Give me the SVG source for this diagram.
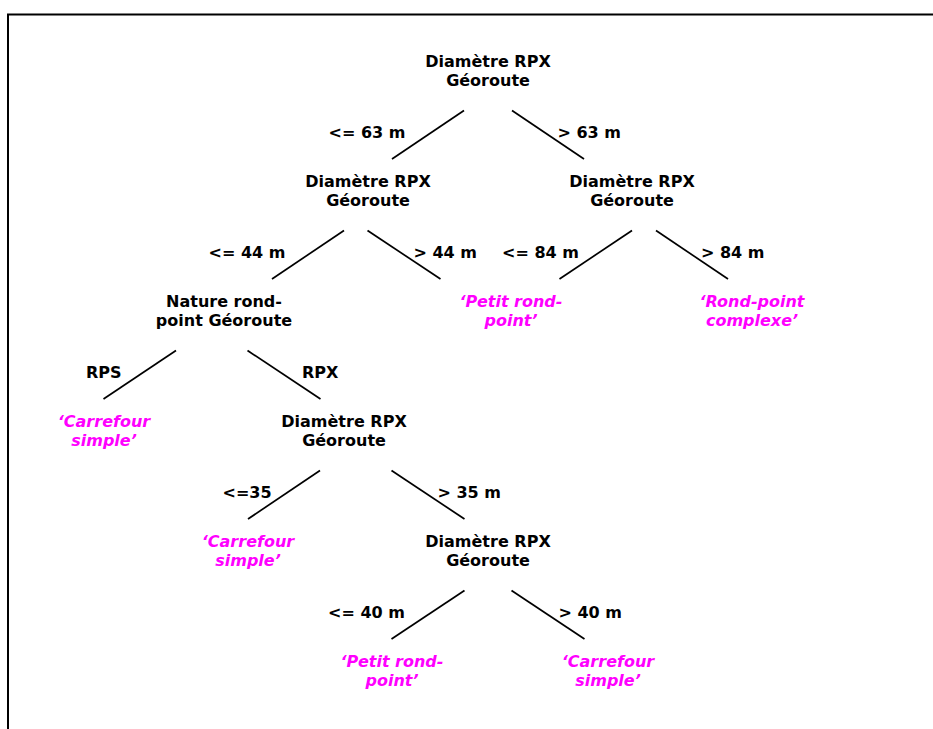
<svg xmlns="http://www.w3.org/2000/svg" width="933" height="729" viewBox="0 0 933 729">
<style>
text{font-family:"DejaVu Sans","Verdana",sans-serif;font-size:16px;font-weight:bold;fill:#000}
.n{text-anchor:middle}
.leaf{text-anchor:middle;fill:#FF00FF;font-style:italic}
.e{text-anchor:start}
.c line{stroke:#000;stroke-width:1.7}
.frame{fill:none;stroke:#000;stroke-width:2}
</style>
<rect width="933" height="729" fill="#fff"/>
<path class="frame" d="M8,729 V14.5 H933"/>
<g id="connectors" class="c">
<line x1="464" y1="110.5" x2="392" y2="159"/>
<line x1="512" y1="110.5" x2="584" y2="159"/>
<line x1="344" y1="230.5" x2="272" y2="279"/>
<line x1="367.5" y1="230.5" x2="440.5" y2="279"/>
<line x1="632" y1="230.5" x2="559.5" y2="279"/>
<line x1="656" y1="230.5" x2="728" y2="279"/>
<line x1="176" y1="350.5" x2="103.5" y2="399"/>
<line x1="247.5" y1="350.5" x2="320.5" y2="399"/>
<line x1="320" y1="470.5" x2="248" y2="519"/>
<line x1="391.5" y1="470.5" x2="464.5" y2="519"/>
<line x1="464.5" y1="590.5" x2="391.5" y2="639"/>
<line x1="511.5" y1="590.5" x2="584.5" y2="639"/>
</g>
<g id="edge-labels">
<text class="e" x="328.5" y="138">&lt;= 63 m</text>
<text class="e" x="557.5" y="138">&gt; 63 m</text>
<text class="e" x="208.5" y="258">&lt;= 44 m</text>
<text class="e" x="413.5" y="258">&gt; 44 m</text>
<text class="e" x="502" y="258">&lt;= 84 m</text>
<text class="e" x="701" y="258">&gt; 84 m</text>
<text class="e" x="86" y="378">RPS</text>
<text class="e" x="302" y="378">RPX</text>
<text class="e" x="222.5" y="498">&lt;=35</text>
<text class="e" x="437.5" y="498">&gt; 35 m</text>
<text class="e" x="328" y="618">&lt;= 40 m</text>
<text class="e" x="558.5" y="618">&gt; 40 m</text>
</g>
<g id="n1"><text class="n" x="488" y="67">Diamètre RPX</text><text class="n" x="488" y="86">Géoroute</text></g>
<g id="n2"><text class="n" x="368" y="187">Diamètre RPX</text><text class="n" x="368" y="206">Géoroute</text></g>
<g id="n3"><text class="n" x="632" y="187">Diamètre RPX</text><text class="n" x="632" y="206">Géoroute</text></g>
<g id="leaf1"><text class="leaf" x="511" y="307">‘Petit rond-</text><text class="leaf" x="511" y="326">point’</text></g>
<g id="leaf2"><text class="leaf" x="752" y="307">‘Rond-point</text><text class="leaf" x="752" y="326">complexe’</text></g>
<g id="n4"><text class="n" x="224" y="307">Nature rond-</text><text class="n" x="224" y="326">point Géoroute</text></g>
<g id="leaf3"><text class="leaf" x="104" y="427">‘Carrefour</text><text class="leaf" x="104" y="446">simple’</text></g>
<g id="n5"><text class="n" x="344" y="427">Diamètre RPX</text><text class="n" x="344" y="446">Géoroute</text></g>
<g id="leaf4"><text class="leaf" x="248" y="547">‘Carrefour</text><text class="leaf" x="248" y="566">simple’</text></g>
<g id="n6"><text class="n" x="488" y="547">Diamètre RPX</text><text class="n" x="488" y="566">Géoroute</text></g>
<g id="leaf5"><text class="leaf" x="392" y="667">‘Petit rond-</text><text class="leaf" x="392" y="686">point’</text></g>
<g id="leaf6"><text class="leaf" x="608" y="667">‘Carrefour</text><text class="leaf" x="608" y="686">simple’</text></g>
</svg>
